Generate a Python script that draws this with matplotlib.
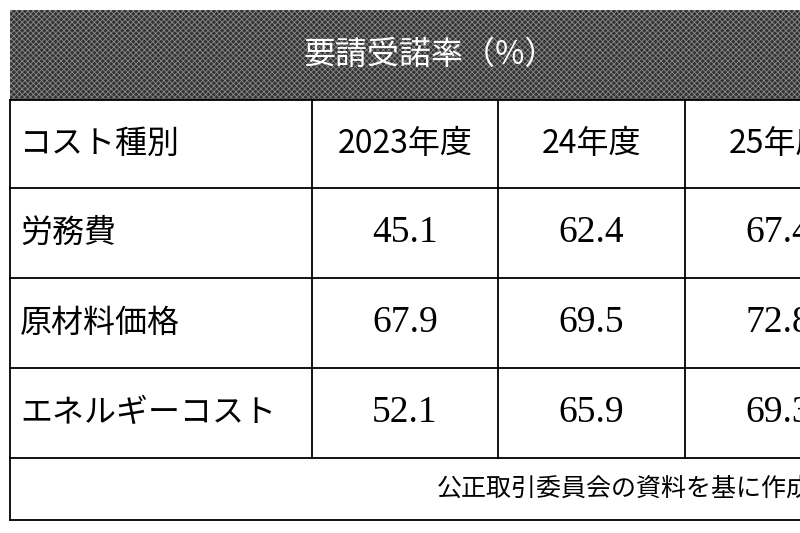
import matplotlib
matplotlib.use("Agg")
import matplotlib.pyplot as plt
from matplotlib.patches import Rectangle

title = "要請受諾率（%）"
header_label = "コスト種別"
years = ["2023年度", "24年度", "25年度"]
categories = ["労務費", "原材料価格", "エネルギーコスト"]
v2023 = [45.1, 67.9, 52.1]
v2024 = [62.4, 69.5, 65.9]
v2025 = [67.4, 72.8, 69.3]
source = "公正取引委員会の資料を基に作成"

plt.rcParams['font.family'] = ['Noto Sans CJK JP', 'DejaVu Sans']
plt.rcParams['hatch.linewidth'] = 0.6

fig = plt.figure(figsize=(8, 5.33), dpi=100)
ax = fig.add_axes([0, 0, 1, 1])
ax.set_xlim(0, 800)
ax.set_ylim(533, 0)
ax.axis('off')

# header band
ax.add_patch(Rectangle((10, 10), 800, 90, facecolor='#333333', edgecolor='none', lw=0))
ax.add_patch(Rectangle((10, 10), 800, 90, facecolor='none', edgecolor='#8a8a8a',
                       hatch='xxxxxx', lw=0))
ax.text(430, 55, title, color='white', fontsize=23, ha='center', va='center')

col_x = [10, 312, 498, 685, 872]
row_y = [100, 188, 278, 368, 458, 520]
lw = 1.3
for y in row_y:
    ax.plot([10, 800], [y, y], color='black', lw=lw)
ax.plot([10, 10], [100, 520], color='black', lw=lw)
for x in col_x[1:4]:
    ax.plot([x, x], [100, 458], color='black', lw=lw)

def cy(i):
    return (row_y[i] + row_y[i + 1]) / 2

ax.text(20, cy(0), header_label, fontsize=23, ha='left', va='center')
for j, yr in enumerate(years):
    ax.text((col_x[j + 1] + col_x[j + 2]) / 2, cy(0), yr, fontsize=23,
            ha='center', va='center')
cols = [v2023, v2024, v2025]
for i, cat in enumerate(categories):
    ax.text(20, cy(i + 1), cat, fontsize=23, ha='left', va='center')
    for j, vals in enumerate(cols):
        ax.text((col_x[j + 1] + col_x[j + 2]) / 2, cy(i + 1), f"{vals[i]:.1f}",
                fontsize=27, ha='center', va='center', family='Liberation Serif')
ax.text(437, 489, source, fontsize=18, ha='left', va='center')

fig.savefig('out.png', dpi=100, facecolor='white')
